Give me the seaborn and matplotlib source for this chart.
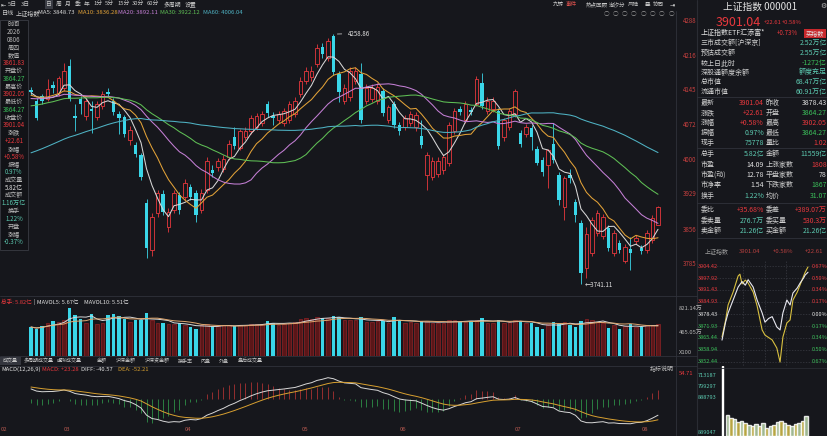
import numpy as np
import pandas as pd
import matplotlib
matplotlib.use('Agg')
import matplotlib.pyplot as plt
from matplotlib.lines import Line2D
from matplotlib.patches import Rectangle
import seaborn as sns

# ---------------- data ----------------
# closes before the visible window (only used to warm up MA30 / MA60 / MACD)
prior_close = [3842, 3855, 3861, 3850, 3868, 3874, 3866, 3880, 3889, 3877,
               3892, 3901, 3896, 3910, 3904, 3918, 3925, 3914, 3930, 3938,
               3927, 3945, 3952, 3940, 3960, 3968, 3975, 3990, 4005, 4022,
               4040, 4058, 4066, 4080, 4072, 4090, 4098, 4085, 4102, 4110,
               4096, 4115, 4108, 4120, 4126, 4112, 4130, 4118, 4125, 4136,
               4121, 4128, 4140, 4115, 4132, 4126, 4138, 4145, 4140]

k_open = [4144, 4121, 4131, 4125, 4154, 4136, 4148, 4193, 4090, 4125,
          4090, 4104, 4088, 4110, 4138, 4121, 4094, 4088, 4040, 4030,
          4008, 3909, 3812, 3888, 3927, 3860, 3894, 3925, 3921, 3942,
          3930, 3894, 3936, 3977, 3983, 3980, 4004, 4045, 4024, 4045,
          4059, 4066, 4074, 4115, 4090, 4080, 4074, 4080, 4094, 4135,
          4162, 4169, 4197, 4232, 4210, 4255, 4177, 4121, 4128, 4162,
          4177, 4121, 4125, 4121, 4142, 4080, 4115, 4070, 4066, 4074,
          4066, 4047, 3967, 3963, 3970, 3977, 3992, 4059, 4104, 4080,
          4102, 4115, 4158, 4100, 4104, 4100, 4045, 4066, 4094, 4055,
          4053, 4064, 4022, 3999, 3987, 4032, 3968, 3900, 3967, 3911,
          3868, 3775, 3806, 3847, 3840, 3857, 3806, 3826, 3790, 3814,
          3830, 3816, 3812, 3833, 3864.27]
k_close = [4138, 4086, 4121, 4146, 4148, 4167, 4183, 4125, 4086, 4115,
           4120, 4100, 4115, 4135, 4134, 4098, 4086, 4053, 4060, 4010,
           3962, 3816, 3880, 3929, 3890, 3890, 3929, 3894, 3950, 3921,
           3884, 3929, 3997, 3972, 3997, 4000, 4032, 4028, 4059, 4059,
           4086, 4090, 4094, 4096, 4086, 4094, 4100, 4115, 4121, 4162,
           4183, 4183, 4230, 4218, 4245, 4180, 4138, 4148, 4183, 4183,
           4080, 4148, 4148, 4150, 4096, 4107, 4070, 4059, 4086, 4094,
           4092, 4030, 4008, 3997, 3997, 4004, 4070, 4100, 4098, 4115,
           4098, 4166, 4111, 4121, 4121, 4028, 4080, 4100, 4142, 4032,
           4066, 4045, 3993, 3973, 4018, 3999, 3915, 3960, 3960, 3884,
           3765, 3845, 3874, 3888, 3880, 3816, 3847, 3812, 3818, 3806,
           3837, 3810, 3847, 3878.43, 3901.04]
k_high = [4150, 4126, 4135, 4166, 4162, 4172, 4200, 4208, 4115, 4131,
          4126, 4121, 4121, 4142, 4148, 4126, 4100, 4092, 4068, 4036,
          4012, 3918, 3888, 3936, 3936, 3898, 3936, 3932, 3958, 3948,
          3936, 3938, 4004, 3987, 4002, 4008, 4040, 4066, 4062, 4066,
          4092, 4096, 4100, 4121, 4098, 4100, 4106, 4121, 4128, 4169,
          4190, 4193, 4238, 4240, 4250, 4258.86, 4183, 4156, 4190, 4190,
          4199, 4156, 4156, 4158, 4148, 4113, 4121, 4076, 4092, 4100,
          4098, 4080, 4014, 4004, 4004, 4010, 4076, 4106, 4110, 4121,
          4108, 4172, 4179, 4128, 4128, 4106, 4086, 4106, 4146, 4060,
          4072, 4070, 4028, 4004, 4022, 4074, 3974, 3966, 3980, 3918,
          3874, 3860, 3880, 3894, 3886, 3864, 3853, 3832, 3824, 3838,
          3842, 3822, 3853, 3884, 3902.05]
k_low = [4132, 4082, 4115, 4121, 4136, 4130, 4142, 4120, 4059, 4094,
         4080, 4055, 4080, 4104, 4128, 4092, 4053, 4045, 4030, 4004,
         3956, 3795, 3800, 3880, 3884, 3850, 3888, 3886, 3915, 3915,
         3870, 3888, 3930, 3962, 3976, 3974, 3998, 4020, 4018, 4040,
         4053, 4060, 4068, 4088, 4070, 4074, 4068, 4074, 4088, 4128,
         4156, 4162, 4190, 4210, 4204, 4175, 4119, 4115, 4121, 4156,
         4074, 4115, 4118, 4115, 4090, 4074, 4064, 4050, 4060, 4068,
         4059, 4024, 3936, 3956, 3964, 3970, 3986, 4053, 4092, 4074,
         4092, 4110, 4104, 4094, 4098, 4022, 4038, 4060, 4088, 4026,
         4046, 4018, 3987, 3966, 3940, 3993, 3905, 3874, 3950, 3870,
         3741.11, 3755, 3800, 3840, 3834, 3810, 3800, 3806, 3784, 3771,
         3824, 3804, 3806, 3826, 3864.27]
# volume, 万手
volume = [522, 486, 540, 600, 630, 610, 640, 864, 738, 666,
          590, 756, 580, 600, 738, 756, 720, 666, 620, 648,
          648, 774, 640, 600, 594, 580, 570, 594, 560, 522,
          486, 550, 570, 522, 540, 550, 560, 540, 560, 550,
          570, 580, 570, 630, 594, 560, 580, 600, 620, 660,
          680, 660, 700, 684, 690, 720, 702, 640, 650, 640,
          702, 620, 610, 630, 630, 600, 702, 648, 600, 610,
          590, 630, 630, 600, 590, 600, 640, 650, 612, 620,
          630, 640, 684, 600, 590, 648, 600, 610, 640, 630,
          600, 594, 522, 486, 580, 612, 576, 620, 558, 522,
          630, 660, 640, 620, 600, 504, 560, 486, 540, 576,
          530, 522, 550, 560, 582]

price_ticks = [4288, 4216, 4145, 4072, 4000, 3929, 3856, 3785]
month_labels = ['02', '03', '04', '05', '06', '07', '08']
month_start = [-4.9, 6.5, 28.5, 49.8, 67.6, 88.5, 111.6]

ma_names = ['MA5', 'MA10', 'MA20', 'MA30', 'MA60']
ma_periods = [5, 10, 20, 30, 60]
ma_values = ['3848.73', '3836.28', '3892.11', '3922.12', '4006.04']

# intraday (right panel)
intra_min = [0, 10, 17, 31, 45, 56, 65, 73, 80, 87, 98, 112, 120, 130, 140,
             153, 162, 170, 181, 190, 198, 210, 218, 228, 232, 240]
intra_price = [3864.3, 3874, 3879, 3886, 3893, 3896, 3894, 3897, 3895, 3893,
               3886, 3879, 3874, 3876, 3877, 3871.4, 3869.8, 3879, 3886,
               3883.3, 3889.8, 3892.5, 3895.2, 3898, 3899.5, 3901.04]
lead_min = [0, 10, 17, 31, 45, 50, 56, 65, 73, 87, 98, 112, 120, 140, 153,
            162, 170, 181, 190, 198, 210, 220, 232, 240]
lead_val = [3866, 3875, 3883.3, 3890.3, 3899, 3900, 3894.7, 3896.8, 3895.2,
            3890.3, 3882.8, 3869.8, 3867, 3864.4, 3860, 3852.4, 3866, 3873.6,
            3875.2, 3886, 3890.3, 3895.2, 3901, 3903.9]
ivol_min = [0, 10, 20, 30, 40, 50, 60, 70, 80, 90, 100, 110, 120, 130, 140,
            150, 160, 170, 180, 190, 200, 210, 220, 230]
ivol = [100, 30, 26, 24, 20, 22, 18, 16, 15, 17, 14, 18, 12, 14, 16, 20, 22,
        18, 16, 15, 17, 19, 22, 28]
intra_levels = [3904.42, 3897.92, 3891.43, 3884.93, 3878.43, 3871.93,
                3865.44, 3858.94, 3852.44]
intra_pct = ['0.67%', '0.50%', '0.34%', '0.17%', '0.00%', '0.17%', '0.34%',
             '0.50%', '0.67%']

# ---------------- style ----------------
BG = '#16171c'
RED = '#e8383d'
CYAN = '#3ad6e8'
GREEN = '#3bbf5a'
TEAL = '#5cc9b0'
WHITE = '#e2e2e2'
GRAY = '#b8b8b8'
SEP = '#30323a'
MA_COLORS = ['#d6d6d6', '#e2a238', '#c47fd5', '#5fbf55', '#4fb3c4']

sns.set_theme(style='dark', rc={'axes.facecolor': BG, 'figure.facecolor': BG})
plt.rcParams['font.family'] = ['Noto Sans CJK SC', 'DejaVu Sans']
plt.rcParams['axes.unicode_minus'] = False

W, H = 828, 436
fig = plt.figure(figsize=(W / 100, H / 100), dpi=100, facecolor=BG)


def px_axes(x0, y0, x1, y1):
    a = fig.add_axes([x0 / W, 1 - y1 / H, (x1 - x0) / W, (y1 - y0) / H])
    a.set_facecolor(BG)
    for s in a.spines.values():
        s.set_visible(False)
    a.grid(False)
    return a


def ftxt(x, y, s, c=GRAY, size=5.0, ha='left', **kw):
    fig.text(x / W, 1 - y / H, s, color=c, fontsize=size, ha=ha, va='center', **kw)


def hline(y, x0, x1, c=SEP, lw=0.6):
    fig.add_artist(Line2D([x0 / W, x1 / W], [1 - y / H, 1 - y / H], color=c, lw=lw,
                          transform=fig.transFigure))


def vline(x, y0, y1, c=SEP, lw=0.6):
    fig.add_artist(Line2D([x / W, x / W], [1 - y0 / H, 1 - y1 / H], color=c, lw=lw,
                          transform=fig.transFigure))


n = len(k_close)
idx = np.arange(n)
o = np.array(k_open, float)
c = np.array(k_close, float)
hi = np.array(k_high, float)
lo = np.array(k_low, float)
up = c >= o
XL = (-31 / 5.5, (676 - 31) / 5.5)

full = pd.Series(prior_close + k_close, dtype=float)

# ---------------- price panel ----------------
ax = px_axes(0, 20, 676, 292)
ax.set_xlim(*XL)
ax.set_ylim(3725, 4286)
ax.vlines(idx[up], lo[up], hi[up], color=RED, lw=0.6, zorder=2)
ax.vlines(idx[~up], lo[~up], hi[~up], color=CYAN, lw=0.6, zorder=2)
body_lo = np.minimum(o, c)
body_h = np.maximum(np.abs(c - o), 1.4)
ax.bar(idx[up], body_h[up], bottom=body_lo[up], width=0.66, facecolor=BG,
       edgecolor=RED, linewidth=0.6, zorder=3)
ax.bar(idx[~up], body_h[~up], bottom=body_lo[~up], width=0.66, color=CYAN,
       linewidth=0, zorder=3)
for p, col in zip(ma_periods, MA_COLORS):
    ma = full.rolling(p).mean().to_numpy()[-n:]
    sns.lineplot(x=idx, y=ma, ax=ax, color=col, linewidth=0.75, zorder=4)
ax.annotate('4258.86', xy=(55.2, 4258.86), xytext=(57.6, 4260), color=WHITE,
            fontsize=4.4, va='center',
            arrowprops=dict(arrowstyle='-', color=WHITE, lw=0.5))
ax.text(100.6, 3739, '←3741.11', color=WHITE, fontsize=4.4, va='center')
ax.set_xticks([])
ax.set_yticks(price_ticks)
ax.set_yticklabels([str(t) for t in price_ticks])
ax.tick_params(axis='y', left=False, labelleft=False, right=False, labelright=True,
               length=0, pad=5, labelsize=4.4, labelcolor='#c8403f')
ax.set_xlabel('')
ax.set_ylabel('')

# ---------------- volume panel ----------------
vol = np.array(volume, float)
axv = px_axes(0, 306, 676, 356)
axv.set_xlim(*XL)
axv.set_ylim(0, 900)
axv.bar(idx[up], vol[up], width=0.72, facecolor='#5a1618', edgecolor='#8f2427',
        linewidth=0.5, zorder=2)
axv.bar(idx[~up], vol[~up], width=0.72, color=CYAN, linewidth=0, zorder=2)
vs = pd.Series(vol)
sns.lineplot(x=idx, y=vs.rolling(5, min_periods=1).mean().to_numpy(), ax=axv,
             color='#d8d8d8', linewidth=0.7, zorder=3)
sns.lineplot(x=idx, y=vs.rolling(10, min_periods=1).mean().to_numpy(), ax=axv,
             color='#e0a870', linewidth=0.7, zorder=3)
axv.set_xticks([])
axv.set_yticks([])
axv.set_xlabel('')
axv.set_ylabel('')

# ---------------- MACD panel ----------------
ema12 = full.ewm(span=12, adjust=False).mean()
ema26 = full.ewm(span=26, adjust=False).mean()
diff = (ema12 - ema26).to_numpy()[-n:]
dea = (ema12 - ema26).ewm(span=9, adjust=False).mean().to_numpy()[-n:]
hist = 2 * (diff - dea)
axm = px_axes(0, 373, 676, 425)
axm.set_xlim(*XL)
lim = max(np.abs(diff).max(), np.abs(dea).max(), np.abs(hist).max()) * 1.05
axm.set_ylim(-lim, lim)
axm.vlines(idx[hist >= 0], 0, hist[hist >= 0], color='#a83232', lw=0.6)
axm.vlines(idx[hist < 0], 0, hist[hist < 0], color='#2f8f48', lw=0.6)
sns.lineplot(x=idx, y=diff, ax=axm, color='#d8d8d8', linewidth=0.7)
sns.lineplot(x=idx, y=dea, ax=axm, color='#d8a030', linewidth=0.7)
axm.set_yticks([])
axm.set_xticks(month_start)
axm.set_xticklabels(month_labels)
axm.tick_params(axis='x', length=0, pad=1.2, labelsize=4.3, labelcolor='#b5584f')
axm.set_xlabel('')
axm.set_ylabel('')

# ---------------- separators ----------------
vline(676, 11, 436)
vline(697, 0, 436, c='#2a2c33', lw=0.8)
hline(296, 0, 697)
hline(356, 0, 697)
hline(366, 0, 697)

# ---------------- top toolbar ----------------
tool_items = ['5日', '3日', '日', '周', '月', '季', '年', '1分', '5分', '15分',
              '30分', '60分', '多周期', '设置']
tool_x = [12, 25, 49, 59, 68, 78, 87, 98, 109, 124, 138, 153, 172, 191]
fig.add_artist(Rectangle((45 / W, 1 - 9 / H), 8.5 / W, 9 / H, facecolor='#3a3c44',
                         edgecolor='none', transform=fig.transFigure))
for t, x in zip(tool_items, tool_x):
    ftxt(x, 4.5, t, c='#c8c8c8', size=4.2, ha='center')
ftxt(1, 4.5, '⇤', c=WHITE, size=4.5)
right_tools = ['九转', '事件', '热点回顾', '潮汐分', '风险', '叠', '协同']
right_x = [558, 571, 597, 617, 633, 647, 658]
right_c = ['#c8c8c8', '#d8504c', '#c8c8c8', '#c8c8c8', '#c8c8c8', '#c8c8c8', '#c8c8c8']
for t, x, col in zip(right_tools, right_x, right_c):
    ftxt(x, 4.5, t, c=col, size=4.0, ha='center')
ftxt(672, 4.5, '⇥', c=WHITE, size=4.5, ha='center')
for k in range(8):
    ftxt(606 + k * 9.3, 14, '○', c='#9a9a9a', size=4.0, ha='center')

# MA legend row
ftxt(2, 13, '日线', c='#c8c8c8', size=4.4)
ftxt(16, 13, '上证指数', c='#c8c8c8', size=4.4)
leg_x = [38, 78, 118, 160, 203]
for name, val, col, x in zip(ma_names, ma_values, MA_COLORS, leg_x):
    ftxt(x, 13, f'{name}: {val}', c=col, size=4.3)

# ---------------- left info box ----------------
fig.add_artist(Rectangle((0, 1 - 250 / H), 28 / W, 230 / H, facecolor='#121317',
                         edgecolor='#3a3c44', lw=0.6, transform=fig.transFigure))
info_items = ['时间', '2026', '0806', '周四', '数值', '3861.83', '开盘价', '3864.27',
              '最高价', '3902.05', '最低价', '3864.27', '收盘价', '3901.04', '涨跌',
              '+22.61', '涨幅', '+0.58%', '振幅', '0.97%', '成交量', '5.82亿',
              '成交额', '1.16万亿', '换手', '1.22%', '开盘', '涨幅', '-0.37%']
info_cols = [GRAY, GRAY, GRAY, GRAY, GRAY, RED, GRAY, GREEN, GRAY, RED, GRAY, GREEN,
             GRAY, RED, GRAY, RED, GRAY, RED, GRAY, TEAL, GRAY, WHITE, GRAY, TEAL,
             GRAY, TEAL, GRAY, GRAY, TEAL]
for k, (t, col) in enumerate(zip(info_items, info_cols)):
    ftxt(14, 24 + k * 7.8, t, c=col, size=4.4, ha='center')

# ---------------- volume / macd headers ----------------
ftxt(1, 302, '总手: 5.82亿', c=RED, size=4.1)
ftxt(34, 302, '| MAVOL5: 5.67亿', c=WHITE, size=4.1)
ftxt(84, 302, 'MAVOL10: 5.51亿', c=WHITE, size=4.1)
for t, y in zip(['821.14万', '465.05万', 'X100'], [308, 332, 352]):
    ftxt(679, y, t, c=GRAY, size=4.2)

tabs = ['成交量', '多周期成交量', '虚拟成交量', '金额', '沪深金额', '沪深资金额',
        '换手率', '内盘', '外盘', '盘后成交量']
tab_x = [10, 39, 69, 102, 126, 157, 185, 206, 224, 250]
fig.add_artist(Rectangle((0, 1 - 365 / H), 21 / W, 8 / H, facecolor='#34363e',
                         edgecolor='none', transform=fig.transFigure))
for t, x in zip(tabs, tab_x):
    ftxt(x, 361, t, c='#c8c8c8', size=3.6, ha='center')

ftxt(1, 369.5, 'MACD(12,26,9)', c=WHITE, size=4.2)
ftxt(42, 369.5, 'MACD: +23.28', c=RED, size=4.2)
ftxt(81, 369.5, 'DIFF: -40.57', c=WHITE, size=4.2)
ftxt(118, 369.5, 'DEA: -52.21', c='#d8a030', size=4.2)
ftxt(650, 369.5, '指标说明', c=GRAY, size=4.3)
ftxt(679, 373, '54.71', c=RED, size=4.2)

# ---------------- right panel ----------------
ftxt(760, 7, '上证指数 000001', c=WHITE, size=7, ha='center')
ftxt(823, 6, '⚙', c=GRAY, size=5, ha='center')
ftxt(716, 22, '3901.04', c=RED, size=9)
ftxt(764, 22.5, '+22.61', c=RED, size=4.2)
ftxt(782, 22.5, '+0.58%', c=RED, size=4.2)
ftxt(701, 33, '上证指数ETF汇添富*', c=WHITE, size=5)
ftxt(777, 33, '+0.73%', c=RED, size=4.4)
fig.add_artist(Rectangle((804 / W, 1 - 38 / H), 22 / W, 9 / H, facecolor='#c8282c',
                         edgecolor='none', transform=fig.transFigure))
ftxt(815, 33.5, '买指数', c=WHITE, size=4.4, ha='center')

summary = [('三市成交额[沪深京]', '2.52万亿', TEAL), ('预估成交额', '2.55万亿', TEAL),
           ('较上日此时', '-1272亿', GREEN), ('深股通额度余额', '额度充足', TEAL),
           ('总市值', '68.47万亿', TEAL), ('流通市值', '60.91万亿', TEAL)]
for k, (lab, val, col) in enumerate(summary):
    y = 43.5 + k * 9.7
    ftxt(701, y, lab, c='#cfcfcf', size=5)
    ftxt(827, y, val, c=col, size=5, ha='right')
hline(97.5, 697, 828)

quotes = [('最新', '3901.04', RED, '昨收', '3878.43', WHITE),
          ('涨跌', '+22.61', RED, '开盘', '3864.27', GREEN),
          ('涨幅', '+0.58%', RED, '最高', '3902.05', RED),
          ('振幅', '0.97%', TEAL, '最低', '3864.27', GREEN),
          ('现手', '75778', TEAL, '量比', '1.02', RED),
          ('总手', '5.82亿', TEAL, '金额', '11559亿', TEAL),
          ('市盈', '14.09', WHITE, '上涨家数', '1808', RED),
          ('市盈(动)', '12.78', WHITE, '平盘家数', '78', WHITE),
          ('市净率', '1.54', WHITE, '下跌家数', '1867', GREEN),
          ('换手', '1.22%', TEAL, '均价', '31.07', GREEN),
          ('委比', '+35.68%', RED, '委差', '+389.07万', RED),
          ('委卖量', '276.7万', TEAL, '委买量', '530.3万', RED),
          ('卖金额', '21.26亿', TEAL, '买金额', '21.26亿', TEAL)]
quote_y = [103, 113, 123, 133, 143, 154, 165, 175, 185, 196, 210, 221, 231]
for (l1, v1, c1, l2, v2, c2), y in zip(quotes, quote_y):
    ftxt(701, y, l1, c='#cfcfcf', size=5)
    ftxt(764, y, v1, c=c1, size=5, ha='right')
    ftxt(766, y, l2, c='#cfcfcf', size=5)
    ftxt(827, y, v2, c=c2, size=5, ha='right')
hline(148.5, 697, 828)
hline(203, 697, 828)
hline(238, 697, 828)

ftxt(705, 251, '上证指数', c='#9a9a9a', size=4.3)
ftxt(739, 251, '3901.04', c='#b8403f', size=4.3)
ftxt(773, 251, '+0.58%', c='#b8403f', size=4.3)
ftxt(805, 251, '+22.61', c='#b8403f', size=4.3)

# intraday chart
k_px = 86 / 240
IXL = (-25 / k_px, 240 + 20 / k_px)
axi = px_axes(697, 260, 828, 368)
axi.set_xlim(*IXL)
axi.set_ylim(3849.19, 3907.67)
for lv, pc in zip(intra_levels, intra_pct):
    col = RED if lv > 3878.43 + 0.01 else (WHITE if abs(lv - 3878.43) < 0.01 else GREEN)
    axi.axhline(lv, color='#3a3c44', lw=0.5, ls=(0, (2, 2)), zorder=1)
    axi.text(IXL[0] + 1, lv, f'{lv:.2f}', color=col, fontsize=4.0, va='center', zorder=5)
    axi.text(IXL[1] - 1, lv, pc, color=col, fontsize=4.0, va='center', ha='right', zorder=5)
for m in [60, 120, 180]:
    axi.axvline(m, color='#3a3c44', lw=0.5, ls=(0, (2, 2)), zorder=1)
sns.lineplot(x=lead_min, y=lead_val, ax=axi, color='#d8c040', linewidth=0.8, zorder=3)
sns.lineplot(x=intra_min, y=intra_price, ax=axi, color='#e8e8f0', linewidth=0.8, zorder=4)
axi.set_xticks([])
axi.set_yticks([])
axi.set_xlabel('')
axi.set_ylabel('')

axiv = px_axes(697, 366, 828, 436)
axiv.set_xlim(*IXL)
axiv.set_ylim(0, 100)
bar_cols = ['#d4bf4a' if k % 2 == 0 else '#b8d4a8' for k in range(len(ivol))]
axiv.bar(ivol_min[:1], ivol[:1], width=1.6, color='#d4bf4a', align='edge')
axiv.bar(ivol_min[1:], ivol[1:], width=9.6, color=bar_cols[1:], align='edge', alpha=0.85)
for t, y in zip(['713187', '799297', '888793'], [375, 386, 397]):
    axiv.text(IXL[0] + 1, 100 - (y - 366) / 70 * 100, t, color=TEAL, fontsize=4.0,
              va='center')
axiv.text(IXL[0] + 1, 5, '889047', color=TEAL, fontsize=4.0, va='center')
axiv.set_xticks([])
axiv.set_yticks([])
axiv.set_xlabel('')
axiv.set_ylabel('')
hline(368, 697, 828, c='#2a2c33')

fig.savefig('out.png', dpi=100, facecolor=BG)
